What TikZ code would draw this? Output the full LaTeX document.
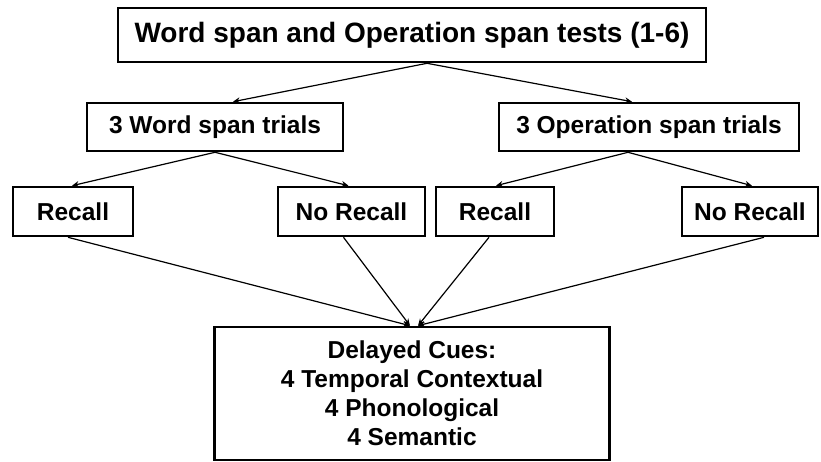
\documentclass[tikz,border=0pt]{standalone}
\usepackage{fontspec}
\setmainfont{Liberation Sans}
\usetikzlibrary{arrows.meta,calc}
\begin{document}
\begin{tikzpicture}[x=1pt,y=-1pt,
  box/.style={draw, line width=2.6pt, inner sep=0pt, align=center,
    font=\bfseries\fontsize{24.5}{29}\selectfont},
  arr/.style={line width=1.2pt, -{Stealth[length=7pt,width=6pt]}}]
\useasboundingbox (0,0) rectangle (821,462);
\node[box, minimum width=588pt, minimum height=54pt,
  font=\bfseries\fontsize{28}{32}\selectfont] (top) at (412,35) {Word span and Operation span tests (1-6)};
\node[box, minimum width=256pt, minimum height=48pt] (wst) at (215,127) {3 Word span trials};
\node[box, minimum width=300pt, minimum height=48pt] (ost) at (649,127) {3 Operation span trials};
\node[box, minimum width=120pt, minimum height=49pt] (r1) at (73,211.5) {Recall};
\node[box, minimum width=147pt, minimum height=49pt] (nr1) at (351.5,211.5) {No Recall};
\node[box, minimum width=118pt, minimum height=49pt] (r2) at (495,211.5) {Recall};
\node[box, minimum width=136pt, minimum height=49pt] (nr2) at (750,211.5) {No Recall};
\node[box, minimum width=395pt, minimum height=133pt] (cues) at (412,393.5)
  {Delayed Cues:\\4 Temporal Contextual\\4 Phonological\\4 Semantic};
\coordinate (ts) at ($(top.south)+(15,0)$);
\coordinate (ws) at (wst.south);
\coordinate (os) at ($(ost.south)+(-21,0)$);
\coordinate (cl) at ($(cues.north)+(-2,0)$);
\coordinate (cr) at ($(cues.north)+(6,0)$);
\draw[arr] (ts) -- ($(wst.north)+(18,0)$);
\draw[arr] (ts) -- ($(ost.north)+(-17,0)$);
\draw[arr] (ws) -- ($(r1.north)+(-1,0)$);
\draw[arr] (ws) -- ($(nr1.north)+(-3,0)$);
\draw[arr] (os) -- ($(r2.north)+(1,0)$);
\draw[arr] (os) -- ($(nr2.north)+(2,0)$);
\draw[arr] ($(r1.south)+(-5,0)$) -- (cl);
\draw[arr] ($(nr1.south)+(-8,0)$) -- (cl);
\draw[arr] ($(r2.south)+(-6,0)$) -- (cr);
\draw[arr] ($(nr2.south)+(14,0)$) -- (cr);
\end{tikzpicture}
\end{document}
